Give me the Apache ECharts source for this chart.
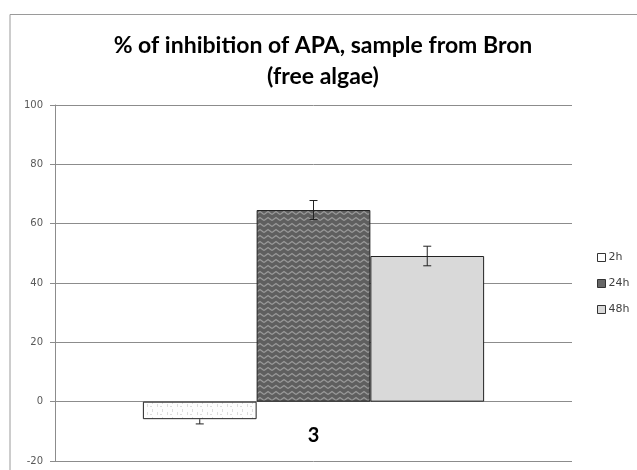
<!DOCTYPE html>
<html>
<head>
<meta charset="utf-8">
<script src="https://cdn.jsdelivr.net/npm/echarts@6/dist/echarts.min.js"></script>
<style>
  html, body { margin: 0; padding: 0; background: #fff; }
  #chart { width: 637px; height: 470px; }
</style>
</head>
<body>
<div id="chart"></div>
<script>
var categories = ['3'];
var seriesNames = ['2h', '24h', '48h'];
var values2h = [-5.9];
var values24h = [64.6];
var values48h = [49.1];
var errors = [1.6, 3.2, 3.3];
var yTicks = [-20, 0, 20, 40, 60, 80, 100];

function makePattern(kind) {
    var c = document.createElement('canvas');
    var ctx = c.getContext('2d');
    if (kind === 'zigzag') {
        c.width = 8; c.height = 6;
        ctx.fillStyle = '#5f5f5f';
        ctx.fillRect(0, 0, 8, 6);
        ctx.strokeStyle = '#9a9a9a';
        ctx.lineWidth = 1.3;
        ctx.beginPath();
        ctx.moveTo(0, 4.5); ctx.lineTo(4, 1.5); ctx.lineTo(8, 4.5);
        ctx.stroke();
    } else {
        c.width = 10; c.height = 8;
        ctx.fillStyle = '#fdfdfd';
        ctx.fillRect(0, 0, 10, 8);
        ctx.fillStyle = '#dcdcdc';
        ctx.fillRect(2, 1, 1, 3);
        ctx.fillRect(7, 4, 1, 3);
        ctx.fillRect(0, 6, 2, 1);
    }
    return { image: c, repeat: 'repeat' };
}

var chart = echarts.init(document.querySelector('#chart'), null);
var option;

var barCommon = {
    type: 'bar',
    barWidth: '22%',
    barGap: '0%'
};

// error bars; for negative bars only the part below the bar end is drawn
function errorSeries(idx, vals) {
    return {
        type: 'custom',
        z: 5,
        silent: true,
        data: vals.map(function (v, i) { return [i, v, errors[idx]]; }),
        renderItem: function (params, api) {
            var v = api.value(1);
            var p = api.coord([api.value(0), v]);
            var band = api.size([1, 0])[0];
            var x = p[0] + (idx - 1) * band * 0.22;
            var hi = api.coord([api.value(0), v + api.value(2)])[1];
            var lo = api.coord([api.value(0), v - api.value(2)])[1];
            var st = { stroke: '#222', lineWidth: 1 };
            var kids = [];
            if (v < 0) {
                kids.push({ type: 'line', shape: { x1: x, y1: p[1], x2: x, y2: lo }, style: st });
            } else {
                kids.push({ type: 'line', shape: { x1: x, y1: hi, x2: x, y2: lo }, style: st });
                kids.push({ type: 'line', shape: { x1: x - 4, y1: hi, x2: x + 4, y2: hi }, style: st });
            }
            kids.push({ type: 'line', shape: { x1: x - 4, y1: lo, x2: x + 4, y2: lo }, style: st });
            return { type: 'group', children: kids };
        }
    };
}

option = {
    animation: false,
    backgroundColor: '#fff',
    title: {
        text: '% of inhibition of APA, sample from Bron\n(free algae)',
        left: 318,
        textAlign: 'center',
        top: 25,
        textStyle: {
            fontFamily: 'Lato',
            fontSize: 23,
            fontWeight: 'bold',
            color: '#000',
            lineHeight: 31
        }
    },
    graphic: [{
        type: 'rect',
        shape: { x: 10, y: 14.5, width: 700, height: 500 },
        style: { fill: 'none', stroke: '#9a9a9a', lineWidth: 1 },
        silent: true
    }],
    legend: {
        orient: 'vertical',
        left: 592,
        top: 247,
        itemWidth: 8,
        itemHeight: 8,
        itemGap: 15,
        icon: 'rect',
        textStyle: { fontFamily: 'DejaVu Sans', fontSize: 11, color: '#404040', padding: [0, 0, 0, -2] },
        data: [
            { name: '2h', itemStyle: { color: '#fff', borderColor: '#333', borderWidth: 1 } },
            { name: '24h', itemStyle: { color: '#666', borderColor: '#333', borderWidth: 1 } },
            { name: '48h', itemStyle: { color: '#d9d9d9', borderColor: '#333', borderWidth: 1 } }
        ]
    },
    grid: {
        left: 55,
        right: 65,
        top: 105,
        bottom: 9,
        containLabel: false,
        outerBoundsMode: 'none'
    },
    xAxis: {
        type: 'category',
        data: categories,
        position: 'bottom',
        offset: -59,
        axisLine: { show: false, onZero: false },
        axisTick: { show: false },
        axisLabel: {
            margin: 24,
            fontFamily: 'Lato',
            fontSize: 20,
            fontWeight: 'bold',
            color: '#000'
        }
    },
    yAxis: {
        type: 'value',
        min: yTicks[0],
        max: yTicks[yTicks.length - 1],
        interval: 20,
        axisLine: { show: true, lineStyle: { color: '#8c8c8c' } },
        axisTick: { show: true, length: 5, lineStyle: { color: '#8c8c8c' } },
        axisLabel: {
            margin: 12,
            fontFamily: 'DejaVu Sans',
            fontSize: 10,
            color: '#595959'
        },
        splitLine: { show: true, lineStyle: { color: '#8c8c8c', width: 1 } }
    },
    series: [
        Object.assign({}, barCommon, { name: seriesNames[0], data: values2h, itemStyle: { color: makePattern('dots'), borderColor: '#222', borderWidth: 1 } }),
        Object.assign({}, barCommon, { name: seriesNames[1], data: values24h, itemStyle: { color: makePattern('zigzag'), borderColor: '#222', borderWidth: 1 } }),
        Object.assign({}, barCommon, { name: seriesNames[2], data: values48h, itemStyle: { color: '#d9d9d9', borderColor: '#222', borderWidth: 1 } }),
        errorSeries(0, values2h),
        errorSeries(1, values24h),
        errorSeries(2, values48h)
    ]
};

if (option && typeof option === 'object') {
    chart.setOption(option);
}

window.addEventListener('resize', function () {
    chart.resize();
})
</script>
</body>
</html>
